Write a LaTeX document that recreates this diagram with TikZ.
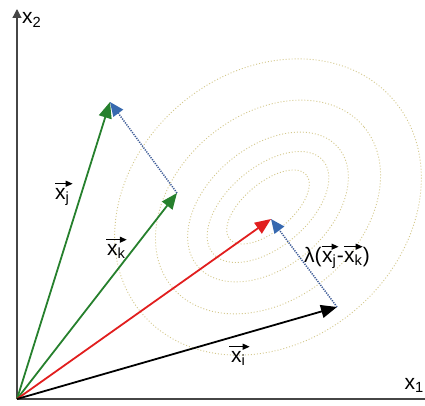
\documentclass[tikz,border=0pt]{standalone}
\usepackage{fontspec}
\setmainfont{Liberation Sans}
\usetikzlibrary{calc, positioning}
\usetikzlibrary{arrows.meta}

\definecolor{vecgreen}{RGB}{38,128,45}
\definecolor{vecred}{RGB}{225,30,30}
\definecolor{diffblue}{RGB}{60,90,150}
\definecolor{headblue}{RGB}{55,105,175}
\definecolor{levelcol}{RGB}{212,200,140}
\definecolor{axiscol}{RGB}{70,70,70}

\begin{document}
\begin{tikzpicture}[x=1pt, y=1pt,
  axis/.style={-{Triangle[length=9pt,width=9pt]}, line width=1.2pt, axiscol},
  vec/.style={-{Triangle[length=16pt,width=13pt]}, line width=1.8pt},
  diff/.style={-{Triangle[length=14pt,width=12pt,color=headblue]}, line width=1.5pt, diffblue, dash pattern=on 1.2pt off 1.2pt},
  level/.style={levelcol, line width=0.9pt, dash pattern=on 1pt off 2pt},
  lbl/.style={inner sep=0pt, anchor=base west, font=\fontsize{21}{24}\selectfont},
  over/.style={-{Triangle[length=7pt,width=6pt]}, line width=1.2pt}]
\useasboundingbox (0,0) rectangle (425,405);

\def\cx{268}
\def\cy{198}

\coordinate (C) at (\cx,\cy);
\coordinate (O) at (17,6);
\coordinate (Ytop) at (17,396);
\coordinate (Xend) at (425,6);
\coordinate (Xi) at (337,98);
\coordinate (Xj) at (110,303);
\coordinate (Xk) at (177,212);
\coordinate (S) at (271,186);

\draw[level, rotate around={40:(C)}] (C) ellipse (165 and 135);
\draw[level, rotate around={40:(C)}] (C) ellipse (125 and 92);
\draw[level, rotate around={40:(C)}] (C) ellipse (92 and 60);
\draw[level, rotate around={40:(C)}] (C) ellipse (72 and 40);
\draw[level, rotate around={40:(C)}] (C) ellipse (50 and 24);

\draw[axis] (O) -- (Ytop);
\draw[line width=1.2pt, axiscol] (O) -- (Xend);

\draw[vec, vecgreen] (O) -- (Xj);
\draw[vec, vecgreen] (O) -- (Xk);
\draw[vec, vecred] (O) -- (S);
\draw[vec, black] (O) -- (Xi);
\draw[diff] (Xk) -- (Xj);
\draw[diff] (Xi) -- (S);

\node[lbl] (x2) at (22,381) {x\textsubscript{2}};
\node[lbl, anchor=base east] (x1) at (424,16) {x\textsubscript{1}};

\node[lbl] (lxj) at (55,206) {x\textsubscript{j}};
\draw[over] ([yshift=4pt]lxj.north west) -- ([xshift=3pt,yshift=4pt]lxj.north east);
\node[lbl] (lxk) at (107,150) {x\textsubscript{k}};
\draw[over] ([xshift=-1pt,yshift=4pt]lxk.north west) -- ([xshift=1pt,yshift=4pt]lxk.north east);
\node[lbl] (lxi) at (231,43) {x\textsubscript{i}};
\draw[over] ([xshift=-2pt,yshift=4pt]lxi.north west) -- ([xshift=4pt,yshift=4pt]lxi.north east);

\node[lbl] (lam) at (304,143) {λ(};
\node[lbl] (lj) at (lam.base east) {x\textsubscript{j}};
\node[lbl] (mn) at (lj.base east) {-};
\node[lbl] (lk) at (mn.base east) {x\textsubscript{k}};
\node[lbl] (rp) at (lk.base east) {)};
\draw[over] ([yshift=4pt]lj.north west) -- ([xshift=2pt,yshift=4pt]lj.north east);
\draw[over] ([yshift=4pt]lk.north west) -- ([yshift=4pt]lk.north east);
\end{tikzpicture}
\end{document}
